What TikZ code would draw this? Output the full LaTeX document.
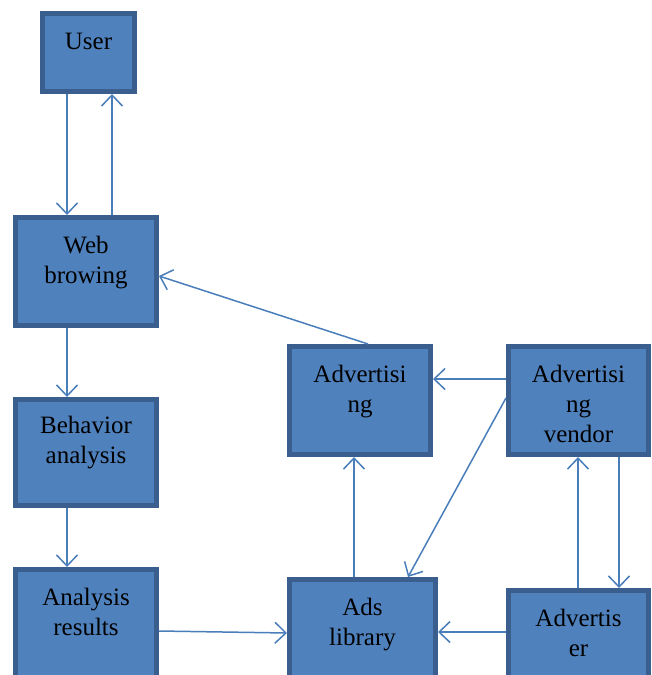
\documentclass[tikz,border=0pt]{standalone}
\usepackage{fontspec}
\setmainfont{Liberation Serif}
\usetikzlibrary{arrows.meta}
\definecolor{boxfill}{HTML}{4F81BD}
\definecolor{boxline}{HTML}{3A5F8E}
\definecolor{arrowc}{HTML}{4A7EBB}
\tikzset{
  box/.style={rectangle, fill=boxfill, draw=boxline, line width=5pt, inner sep=0pt},
  lbl/.style={anchor=north, align=center, inner sep=0pt, text=black,
              font=\fontsize{25}{30}\selectfont},
  conn/.style={draw=arrowc, line width=1.5pt, -{Straight Barb[length=11pt,width=21pt,line width=1.5pt]}},
}
\begin{document}
\begin{tikzpicture}[x=1pt,y=1pt]
\useasboundingbox (0,0) rectangle (651,-675);
\fill[white] (0,0) rectangle (651,-675);
\clip (0,0) rectangle (651,-675);
% boxes (centre, size minus line width)
\node[box, minimum width=92pt, minimum height=78pt] (user) at (88.5,-52.5) {};
\node[box, minimum width=141pt, minimum height=108pt] (web) at (86,-271.5) {};
\node[box, minimum width=141pt, minimum height=106pt] (beh) at (86,-452.5) {};
\node[box, minimum width=141pt, minimum height=108pt] (res) at (86,-623.5) {};
\node[box, minimum width=141pt, minimum height=108pt] (adv) at (360,-400.5) {};
\node[box, minimum width=140pt, minimum height=108pt] (vend) at (578.5,-400.5) {};
\node[box, minimum width=146pt, minimum height=108pt] (lib) at (362.5,-633.5) {};
\node[box, minimum width=140pt, minimum height=108pt] (advr) at (578.5,-644.5) {};
% labels
\node[lbl] (userl) at ([yshift=-17pt]user.north) {\strut User};
\node[lbl] (webl) at ([yshift=-17pt]web.north) {\strut Web\\browing};
\node[lbl] (behl) at ([yshift=-15pt]beh.north) {\strut Behavior\\analysis};
\node[lbl] (resl) at ([yshift=-17pt]res.north) {\strut Analysis\\results};
\node[lbl] (advl) at ([yshift=-17pt]adv.north) {\strut Advertisi\\ng};
\node[lbl] (vendl) at ([yshift=-17pt]vend.north) {\strut Advertisi\\ng\\vendor};
\node[lbl] (libl) at ([yshift=-17pt]lib.north) {\strut Ads\\library};
\node[lbl] (advrl) at ([yshift=-17pt]advr.north) {\strut Advertis\\er};
% connectors
\draw[conn] ([xshift=-21.5pt]user.south) -- ([xshift=-19pt]web.north);
\draw[conn] ([xshift=26pt]web.north) -- ([xshift=23.5pt]user.south);
\draw[conn] ([xshift=8pt]adv.north) -- ([yshift=-4.5pt]web.east);
\draw[conn] ([xshift=-19pt]web.south) -- ([xshift=-19pt]beh.north);
\draw[conn] ([xshift=-19pt]beh.south) -- ([xshift=-19pt]res.north);
\draw[conn] ([yshift=-7.5pt]res.east) -- ([yshift=0.5pt]lib.west);
\draw[conn] ([xshift=-8.5pt]lib.north) -- ([xshift=-6pt]adv.south);
\draw[conn] ([yshift=21.5pt]vend.west) -- ([yshift=21.5pt]adv.east);
\draw[conn] ([yshift=2.5pt]vend.west) -- ([xshift=45.5pt]lib.north);
\draw[conn] ([xshift=-0.5pt]advr.north) -- ([xshift=-0.5pt]vend.south);
\draw[conn] ([xshift=40.5pt]vend.south) -- ([xshift=40.5pt]advr.north);
\draw[conn] ([yshift=12.5pt]advr.west) -- ([yshift=1.5pt]lib.east);
\end{tikzpicture}
\end{document}
